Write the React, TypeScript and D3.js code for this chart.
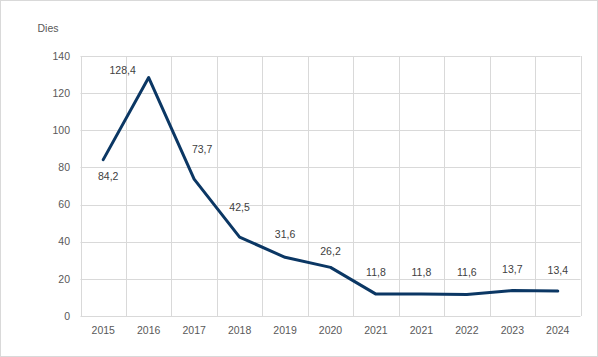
import React from "react";
import * as d3 from "d3";

const categories = ["2015", "2016", "2017", "2018", "2019", "2020", "2021", "2021", "2022", "2023", "2024"];
const values = [84.2, 128.4, 73.7, 42.5, 31.6, 26.2, 11.8, 11.8, 11.6, 13.7, 13.4];
const yTicks = [0, 20, 40, 60, 80, 100, 120, 140];
const yTitle = "Dies";
// label offsets relative to each point (dx, dy)
const labelDx = [5, -26, 8, 0, 0, 0, 0, 0, 0, 0, 0];
const labelDy = [17, -7, -30, -30, -23, -16, -22, -22, -22, -21, -21];

const W = 598;
const H = 357;
const plot = { left: 80.5, right: 580.5, top: 56, bottom: 316 };
const FONT = "'Liberation Sans', Arial, sans-serif";

export default function App() {
  const idx = categories.map((_, i) => i);
  const x = d3.scaleBand<number>().domain(idx).range([plot.left, plot.right]).padding(0);
  const y = d3.scaleLinear().domain([0, 140]).range([plot.bottom, plot.top]);
  const line = d3
    .line<number>()
    .x((_, i) => (x(i) as number) + x.bandwidth() / 2)
    .y((d) => y(d));
  const fmt = (v: number) => v.toFixed(1).replace(".", ",");
  const boundaries = d3.range(categories.length + 1).map((i) => plot.left + i * x.bandwidth());

  return (
    <svg
      width={W}
      height={H}
      style={{ position: "absolute", left: 0, top: 0, display: "block" }}
      fontFamily={FONT}
    >
      <rect x={0.5} y={0.5} width={W - 1} height={H - 1} fill="#ffffff" stroke="#d9d9d9" />
      {yTicks.map((t) => (
        <line key={"h" + t} x1={plot.left} x2={plot.right} y1={Math.round(y(t)) + 0.5} y2={Math.round(y(t)) + 0.5} stroke="#d9d9d9" strokeWidth={1} />
      ))}
      {boundaries.map((bx, i) => (
        <line key={"v" + i} x1={Math.round(bx) + 0.5} x2={Math.round(bx) + 0.5} y1={plot.top} y2={plot.bottom} stroke="#d9d9d9" strokeWidth={1} />
      ))}
      {yTicks.map((t) => (
        <text key={"yt" + t} x={70} y={y(t)} dy="0.35em" textAnchor="end" fontSize={10.5} fill="#595959">
          {t}
        </text>
      ))}
      {categories.map((c, i) => (
        <text key={"xt" + i} x={(x(i) as number) + x.bandwidth() / 2} y={330} dy="0.35em" textAnchor="middle" fontSize={10.5} fill="#595959">
          {c}
        </text>
      ))}
      <text x={48} y={28} dy="0.35em" textAnchor="middle" fontSize={10.5} fill="#595959">
        {yTitle}
      </text>
      <path d={line(values) || ""} fill="none" stroke="#0b3764" strokeWidth={3} strokeLinejoin="round" strokeLinecap="round" />
      {values.map((v, i) => (
        <text
          key={"l" + i}
          x={(x(i) as number) + x.bandwidth() / 2 + labelDx[i]}
          y={y(v) + labelDy[i]}
          dy="0.35em"
          textAnchor="middle"
          fontSize={10.5}
          fill="#404040"
        >
          {fmt(v)}
        </text>
      ))}
    </svg>
  );
}
